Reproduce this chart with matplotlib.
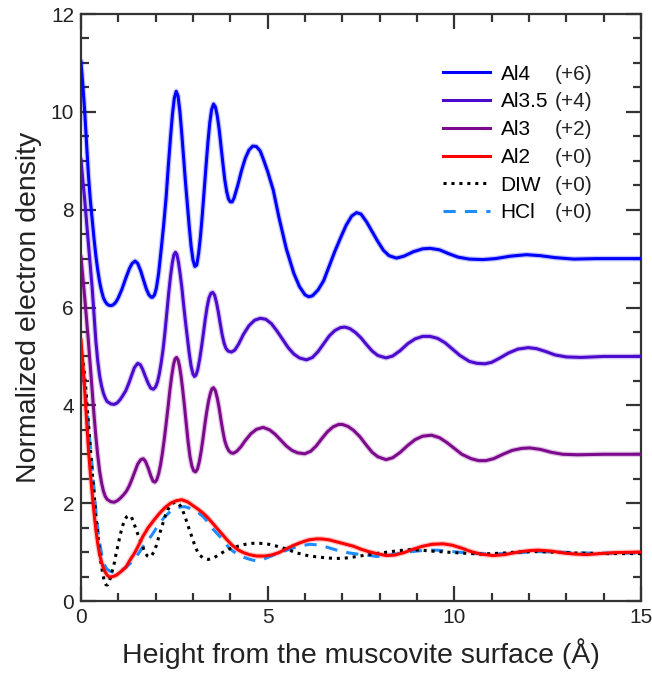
import matplotlib
matplotlib.use("Agg")
import matplotlib.pyplot as plt
from matplotlib.ticker import MultipleLocator

plt.rcParams['font.family'] = ['Liberation Sans', 'DejaVu Sans']

# ---------------- data, as (height, density) pairs ----------------
# (values already include the vertical offsets given in the legend)
al4_pts = [
    (0, 11.02), (0.05, 10.55), (0.1, 10.0), (0.15, 9.35), (0.2, 8.7), (0.25, 8.2), (0.3, 7.8),
    (0.35, 7.4), (0.4, 7.05), (0.45, 6.76), (0.5, 6.52), (0.55, 6.34), (0.6, 6.2), (0.65, 6.12),
    (0.7, 6.07), (0.75, 6.045), (0.8, 6.04), (0.85, 6.05), (0.9, 6.08), (0.95, 6.13), (1.0, 6.2),
    (1.1, 6.38), (1.2, 6.6), (1.3, 6.8), (1.37, 6.9), (1.45, 6.95), (1.52, 6.9), (1.6, 6.75),
    (1.68, 6.55), (1.75, 6.38), (1.82, 6.26), (1.88, 6.21), (1.92, 6.21), (1.97, 6.26),
    (2.02, 6.4), (2.08, 6.7), (2.15, 7.2), (2.21, 7.65), (2.28, 8.25), (2.34, 8.9), (2.4, 9.5),
    (2.45, 9.95), (2.5, 10.28), (2.55, 10.42), (2.6, 10.32), (2.65, 10.0), (2.7, 9.55),
    (2.75, 9.05), (2.8, 8.55), (2.85, 8.1), (2.9, 7.65), (2.95, 7.25), (3.0, 6.97),
    (3.05, 6.84), (3.1, 6.87), (3.15, 7.1), (3.2, 7.45), (3.25, 7.9), (3.3, 8.4), (3.35, 8.9),
    (3.4, 9.38), (3.45, 9.78), (3.5, 10.05), (3.55, 10.16), (3.6, 10.1), (3.65, 9.92),
    (3.7, 9.65), (3.75, 9.3), (3.8, 8.95), (3.85, 8.62), (3.9, 8.38), (3.95, 8.22), (4.0, 8.16),
    (4.05, 8.16), (4.1, 8.24), (4.2, 8.5), (4.3, 8.8), (4.4, 9.05), (4.5, 9.22), (4.6, 9.3),
    (4.7, 9.29), (4.8, 9.2), (4.9, 9.0), (5.0, 8.78), (5.15, 8.4), (5.3, 7.85), (5.5, 7.2),
    (5.7, 6.7), (5.85, 6.43), (6.0, 6.26), (6.1, 6.22), (6.2, 6.24), (6.35, 6.36), (6.5, 6.55),
    (6.65, 6.85), (6.8, 7.15), (6.95, 7.42), (7.1, 7.68), (7.25, 7.87), (7.38, 7.94),
    (7.5, 7.91), (7.65, 7.75), (7.8, 7.55), (7.95, 7.35), (8.1, 7.17), (8.25, 7.06),
    (8.45, 7.01), (8.65, 7.05), (8.9, 7.14), (9.15, 7.2), (9.35, 7.21), (9.6, 7.18),
    (9.85, 7.1), (10.1, 7.03), (10.4, 6.99), (10.77, 6.98), (11.1, 7.0), (11.5, 7.05),
    (11.93, 7.08), (12.3, 7.06), (12.7, 7.02), (13.2, 6.99), (13.8, 7.0), (14.5, 7.0), (15, 7.0)]

al35_pts = [
    (0, 9.02), (0.05, 8.6), (0.1, 8.2), (0.15, 7.75), (0.2, 7.3), (0.25, 6.85), (0.3, 6.4),
    (0.35, 5.85), (0.4, 5.3), (0.45, 4.9), (0.5, 4.6), (0.55, 4.4), (0.6, 4.25), (0.65, 4.15),
    (0.7, 4.08), (0.8, 4.03), (0.89, 4.02), (0.97, 4.05), (1.05, 4.12), (1.12, 4.2), (1.2, 4.3),
    (1.28, 4.45), (1.35, 4.6), (1.43, 4.77), (1.52, 4.86), (1.59, 4.83), (1.65, 4.74),
    (1.72, 4.6), (1.8, 4.45), (1.87, 4.35), (1.94, 4.33), (2.0, 4.38), (2.05, 4.48),
    (2.1, 4.65), (2.15, 4.88), (2.2, 5.15), (2.25, 5.5), (2.3, 5.9), (2.35, 6.3), (2.4, 6.65),
    (2.45, 6.93), (2.49, 7.08), (2.53, 7.13), (2.57, 7.08), (2.61, 6.93), (2.65, 6.72),
    (2.7, 6.42), (2.75, 6.05), (2.8, 5.7), (2.85, 5.38), (2.9, 5.06), (2.95, 4.8), (3.0, 4.64),
    (3.04, 4.59), (3.08, 4.62), (3.13, 4.74), (3.18, 4.95), (3.23, 5.2), (3.28, 5.48),
    (3.33, 5.77), (3.38, 6.02), (3.43, 6.2), (3.48, 6.29), (3.53, 6.31), (3.58, 6.25),
    (3.63, 6.1), (3.68, 5.9), (3.73, 5.67), (3.78, 5.45), (3.83, 5.28), (3.88, 5.17),
    (3.94, 5.11), (4.03, 5.09), (4.12, 5.13), (4.22, 5.25), (4.35, 5.45), (4.5, 5.63),
    (4.65, 5.74), (4.8, 5.78), (4.95, 5.76), (5.1, 5.67), (5.25, 5.52), (5.4, 5.35),
    (5.55, 5.18), (5.7, 5.05), (5.85, 4.97), (6.04, 4.93), (6.2, 4.98), (6.35, 5.1),
    (6.5, 5.26), (6.65, 5.42), (6.8, 5.53), (6.95, 5.59), (7.07, 5.6), (7.2, 5.57),
    (7.35, 5.49), (7.5, 5.38), (7.65, 5.24), (7.8, 5.11), (7.95, 5.02), (8.17, 4.97),
    (8.35, 5.01), (8.55, 5.12), (8.75, 5.26), (8.95, 5.36), (9.15, 5.41), (9.35, 5.41),
    (9.55, 5.37), (9.75, 5.28), (9.95, 5.15), (10.15, 5.02), (10.4, 4.9), (10.6, 4.86),
    (10.82, 4.85), (11.0, 4.88), (11.2, 4.96), (11.45, 5.07), (11.7, 5.15), (11.98, 5.18),
    (12.2, 5.16), (12.45, 5.1), (12.7, 5.03), (13.0, 4.99), (13.4, 4.98), (14.0, 5.0), (15, 5.0)]

al3_pts = [
    (0, 7.03), (0.05, 6.62), (0.1, 6.2), (0.15, 5.75), (0.2, 5.3), (0.25, 4.8), (0.3, 4.3),
    (0.35, 3.8), (0.4, 3.35), (0.45, 2.97), (0.5, 2.65), (0.55, 2.42), (0.6, 2.25),
    (0.65, 2.14), (0.7, 2.08), (0.8, 2.03), (0.89, 2.02), (0.97, 2.05), (1.05, 2.1),
    (1.15, 2.18), (1.22, 2.25), (1.29, 2.35), (1.36, 2.48), (1.44, 2.64), (1.52, 2.8),
    (1.6, 2.89), (1.67, 2.91), (1.73, 2.85), (1.8, 2.72), (1.87, 2.56), (1.93, 2.45),
    (1.98, 2.43), (2.03, 2.48), (2.08, 2.6), (2.13, 2.78), (2.18, 3.02), (2.23, 3.3),
    (2.28, 3.62), (2.33, 3.95), (2.38, 4.3), (2.43, 4.6), (2.48, 4.84), (2.52, 4.95),
    (2.56, 4.98), (2.6, 4.93), (2.64, 4.8), (2.68, 4.6), (2.72, 4.35), (2.77, 4.0),
    (2.82, 3.62), (2.87, 3.25), (2.92, 2.95), (2.97, 2.76), (3.02, 2.66), (3.07, 2.64),
    (3.12, 2.7), (3.17, 2.85), (3.22, 3.07), (3.27, 3.33), (3.32, 3.62), (3.37, 3.88),
    (3.42, 4.1), (3.47, 4.26), (3.51, 4.34), (3.55, 4.36), (3.6, 4.3), (3.65, 4.15),
    (3.7, 3.95), (3.75, 3.7), (3.8, 3.47), (3.85, 3.28), (3.9, 3.16), (3.96, 3.07),
    (4.02, 3.03), (4.08, 3.02), (4.17, 3.06), (4.28, 3.15), (4.4, 3.28), (4.55, 3.42),
    (4.7, 3.51), (4.88, 3.55), (5.05, 3.5), (5.2, 3.41), (5.35, 3.29), (5.5, 3.17),
    (5.65, 3.08), (5.8, 3.03), (5.99, 3.01), (6.15, 3.06), (6.3, 3.17), (6.45, 3.32),
    (6.6, 3.46), (6.75, 3.56), (6.9, 3.61), (7.0, 3.61), (7.15, 3.57), (7.3, 3.49),
    (7.47, 3.36), (7.65, 3.18), (7.8, 3.04), (7.95, 2.95), (8.17, 2.89), (8.35, 2.93),
    (8.55, 3.04), (8.75, 3.18), (8.95, 3.3), (9.15, 3.37), (9.39, 3.39), (9.6, 3.34),
    (9.8, 3.24), (10.0, 3.12), (10.2, 3.0), (10.45, 2.91), (10.65, 2.87), (10.84, 2.87),
    (11.05, 2.91), (11.3, 3.0), (11.55, 3.08), (11.8, 3.12), (12.02, 3.13), (12.3, 3.1),
    (12.6, 3.04), (12.9, 3.0), (13.3, 2.99), (14.0, 3.0), (15, 3.0)]

al2_pts = [
    (0, 5.33), (0.05, 4.85), (0.1, 4.3), (0.15, 3.7), (0.2, 3.1), (0.25, 2.62), (0.3, 2.2),
    (0.35, 1.8), (0.4, 1.45), (0.45, 1.17), (0.5, 0.95), (0.55, 0.8), (0.6, 0.68),
    (0.65, 0.59), (0.7, 0.53), (0.76, 0.49), (0.85, 0.5), (0.95, 0.53), (1.05, 0.59),
    (1.2, 0.69), (1.3, 0.82), (1.45, 1.0), (1.55, 1.15), (1.65, 1.31), (1.8, 1.5),
    (1.95, 1.65), (2.1, 1.79), (2.25, 1.91), (2.4, 2.0), (2.55, 2.05), (2.7, 2.07),
    (2.85, 2.03), (3.0, 1.95), (3.15, 1.87), (3.28, 1.79), (3.4, 1.7), (3.55, 1.57),
    (3.73, 1.41), (3.9, 1.26), (4.05, 1.14), (4.2, 1.05), (4.35, 0.99), (4.5, 0.95),
    (4.7, 0.92), (4.92, 0.92), (5.1, 0.94), (5.3, 0.99), (5.51, 1.07), (5.7, 1.14),
    (5.9, 1.2), (6.1, 1.25), (6.3, 1.27), (6.45, 1.27), (6.65, 1.25), (6.85, 1.21),
    (7.05, 1.17), (7.3, 1.12), (7.5, 1.06), (7.7, 1.01), (7.92, 0.97), (8.18, 0.93),
    (8.4, 0.94), (8.65, 0.99), (8.9, 1.06), (9.15, 1.12), (9.4, 1.16), (9.7, 1.17),
    (9.95, 1.14), (10.2, 1.08), (10.45, 1.01), (10.7, 0.96), (11.04, 0.93), (11.35, 0.95),
    (11.7, 1.0), (12.0, 1.03), (12.24, 1.04), (12.6, 1.02), (12.95, 0.98), (13.25, 0.96),
    (13.54, 0.95), (13.9, 0.97), (14.3, 0.99), (15, 1.0)]

diw_pts = [
    (0, 5.19), (0.05, 4.93), (0.1, 4.6), (0.14, 4.25), (0.18, 3.83), (0.22, 3.43),
    (0.27, 2.95), (0.31, 2.55), (0.36, 2.12), (0.4, 1.75), (0.45, 1.35), (0.5, 1.0),
    (0.54, 0.76), (0.58, 0.57), (0.62, 0.42), (0.67, 0.33), (0.71, 0.33), (0.75, 0.39),
    (0.8, 0.5), (0.85, 0.65), (0.9, 0.8), (0.94, 0.97), (1.0, 1.17), (1.05, 1.35), (1.1, 1.5),
    (1.15, 1.62), (1.22, 1.72), (1.29, 1.75), (1.35, 1.72), (1.4, 1.63), (1.45, 1.52),
    (1.5, 1.41), (1.56, 1.3), (1.61, 1.2), (1.67, 1.08), (1.72, 0.98), (1.78, 0.92),
    (1.83, 0.9), (1.88, 0.92), (1.95, 1.0), (2.02, 1.14), (2.08, 1.3), (2.14, 1.46),
    (2.19, 1.58), (2.25, 1.73), (2.32, 1.86), (2.39, 1.95), (2.46, 2.0), (2.53, 2.02),
    (2.6, 2.0), (2.66, 1.95), (2.72, 1.86), (2.78, 1.74), (2.85, 1.58), (2.92, 1.42),
    (2.99, 1.27), (3.05, 1.13), (3.12, 1.01), (3.19, 0.93), (3.28, 0.88), (3.41, 0.85),
    (3.55, 0.88), (3.7, 0.95), (3.85, 1.02), (3.99, 1.07), (4.2, 1.12), (4.4, 1.16),
    (4.6, 1.18), (4.79, 1.18), (4.97, 1.17), (5.15, 1.14), (5.35, 1.1), (5.51, 1.06),
    (5.65, 1.02), (5.8, 0.98), (5.95, 0.95), (6.13, 0.92), (6.35, 0.9), (6.6, 0.88),
    (6.85, 0.87), (7.1, 0.88), (7.3, 0.9), (7.55, 0.93), (7.74, 0.95), (8.0, 0.98),
    (8.2, 1.0), (8.5, 1.03), (8.81, 1.05), (9.1, 1.04), (9.4, 1.02), (9.8, 1.0), (10.2, 0.98),
    (10.7, 0.96), (11.0, 0.97), (11.3, 0.98), (11.65, 1.0), (12.0, 1.01), (12.3, 1.01),
    (12.6, 1.0), (13.0, 0.99), (13.3, 0.98), (14.0, 0.97), (15, 0.97)]

hcl_pts = [
    (0, 5.09), (0.05, 4.76), (0.1, 4.4), (0.15, 4.0), (0.2, 3.6), (0.25, 3.17), (0.3, 2.75),
    (0.35, 2.3), (0.4, 1.85), (0.45, 1.48), (0.5, 1.2), (0.55, 0.97), (0.6, 0.8),
    (0.65, 0.71), (0.7, 0.65), (0.78, 0.61), (0.85, 0.59), (0.92, 0.59), (1.0, 0.6),
    (1.1, 0.63), (1.2, 0.69), (1.32, 0.77), (1.45, 0.88), (1.55, 0.98), (1.65, 1.1),
    (1.78, 1.23), (1.9, 1.35), (2.0, 1.47), (2.1, 1.58), (2.22, 1.7), (2.35, 1.8),
    (2.45, 1.86), (2.54, 1.89), (2.65, 1.92), (2.77, 1.93), (2.9, 1.9), (3.0, 1.86),
    (3.15, 1.8), (3.28, 1.72), (3.4, 1.61), (3.5, 1.5), (3.62, 1.4), (3.73, 1.31),
    (3.85, 1.2), (3.95, 1.1), (4.05, 1.03), (4.17, 0.97), (4.3, 0.91), (4.45, 0.87),
    (4.58, 0.84), (4.7, 0.82), (4.85, 0.84), (5.0, 0.89), (5.15, 0.94), (5.3, 0.98),
    (5.51, 1.04), (5.7, 1.09), (5.9, 1.13), (6.13, 1.16), (6.3, 1.15), (6.5, 1.12),
    (6.68, 1.08), (6.85, 1.04), (7.05, 1.0), (7.3, 0.97), (7.5, 0.95), (7.74, 0.93),
    (7.92, 0.91), (8.2, 0.93), (8.5, 0.97), (8.85, 1.01), (9.25, 1.04), (9.55, 1.04),
    (9.8, 1.02), (10.1, 1.0), (10.4, 0.98), (10.7, 0.97), (11.0, 0.96), (11.35, 0.97),
    (11.7, 0.99), (12.0, 1.0), (12.3, 1.01), (12.75, 1.0), (13.2, 0.99), (13.6, 0.98),
    (14.0, 0.98), (15, 0.98)]

names = ["Al4", "Al3.5", "Al3", "Al2", "DIW", "HCl"]
offsets = ["(+6)", "(+4)", "(+2)", "(+0)", "(+0)", "(+0)"]

# ---------------- figure ----------------
fig = plt.figure(figsize=(6.52, 6.77), dpi=100)
ax = fig.add_axes([0.1242, 0.1122, 0.859, 0.8671])

colors = ["#0000FF", "#4B0ACD", "#7D0A8C", "#FF0000", "#000000", "#1E8CFF"]
series = [al4_pts, al35_pts, al3_pts, al2_pts, diw_pts, hcl_pts]
styles = ["-", "-", "-", "-", (0, (1, 1.6)), (0, (4, 3))]
handles = []
for i, (pts, c, ls, nm) in enumerate(zip(series, colors, styles, names)):
    xs = [p[0] for p in pts]
    ys = [p[1] for p in pts]
    if i < 4:
        ax.plot(xs, ys, color=c, lw=4.0, alpha=0.22, solid_joinstyle='round', zorder=2)
    h, = ax.plot(xs, ys, color=c, lw=2.2, linestyle=ls, label=nm, zorder=3 + (5 - i) * 0.1,
                 solid_joinstyle='round')
    handles.append(h)

ax.set_xlim(0, 15)
ax.set_ylim(0, 12)
ax.xaxis.set_major_locator(MultipleLocator(5))
ax.xaxis.set_minor_locator(MultipleLocator(1))
ax.yaxis.set_major_locator(MultipleLocator(2))
ax.yaxis.set_minor_locator(MultipleLocator(0.5))
spine_c = "#333333"
for s in ax.spines.values():
    s.set_color(spine_c)
    s.set_linewidth(1.6)
ax.tick_params(which='both', direction='in', top=True, right=True, colors=spine_c,
               labelcolor='#222222', width=1.6, labelsize=15)
ax.tick_params(which='major', length=11, pad=5)
ax.tick_params(which='minor', length=5.5)

ax.set_xlabel("Height from the muscovite surface (Å)", fontsize=20.5, color='#222222',
              labelpad=8)
ax.set_ylabel("Normalized electron density", fontsize=20.5, color='#222222', labelpad=6)

leg = ax.legend(handles=handles, labels=names, loc='upper left',
                bbox_to_anchor=(0.632, 0.928), frameon=False, fontsize=15,
                handlelength=2.25, handletextpad=0.5, labelspacing=0.42,
                borderaxespad=0.0)
fig.canvas.draw()
inv = ax.transAxes.inverted()
for txt, off in zip(leg.get_texts(), offsets):
    bb = txt.get_window_extent()
    x0, y0 = inv.transform((bb.x0, (bb.y0 + bb.y1) / 2))
    ax.text(0.846, y0, off, transform=ax.transAxes, fontsize=15, va='center', ha='left',
            color='#222222')

fig.savefig("out.png", dpi=100)
